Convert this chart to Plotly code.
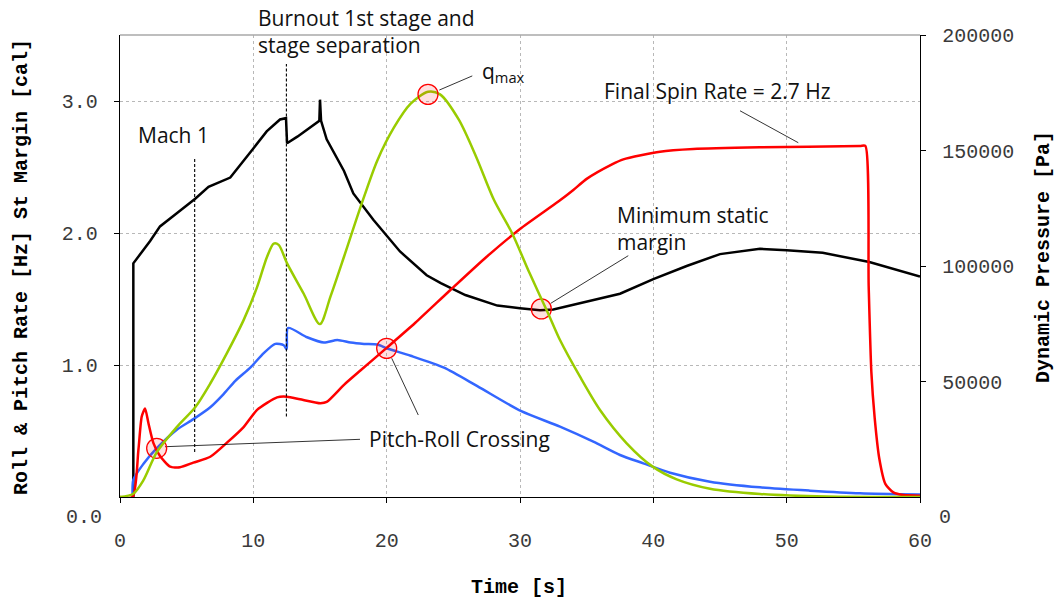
import plotly.graph_objects as go

# ---------------- data ----------------
# Static margin [cal] (left axis)
t_margin = [1.0, 1.0, 2.26, 3.0, 4.26, 5.64, 6.64, 8.27, 10.0, 11.0, 12.0, 12.45, 12.53, 13.3,
            14.95, 15.0, 15.08, 15.5, 16.8, 17.5, 19.0, 21.0, 23.0, 24.06, 25.9, 28.3, 30.0,
            31.5, 32.5, 35.0, 37.5, 40.0, 42.5, 45.0, 48.0, 50.0, 52.7, 56.2, 60.0]
static_margin = [0.0, 1.77, 1.94, 2.05, 2.15, 2.26, 2.35, 2.42, 2.64, 2.77, 2.86, 2.87, 2.68, 2.73,
                 2.85, 3.01, 2.85, 2.71, 2.47, 2.30, 2.10, 1.86, 1.68, 1.62, 1.53, 1.45, 1.43,
                 1.415, 1.42, 1.48, 1.54, 1.65, 1.75, 1.84, 1.88, 1.87, 1.85, 1.78, 1.67]

# Pitch rate [Hz] (left axis)
t_pitch = [0.95, 1.0, 1.75, 2.76, 4.26, 5.51, 6.77, 7.77, 8.65, 9.77, 10.78, 11.65, 12.28, 12.5,
           12.6, 14.03, 15.29, 16.3, 17.3, 18.3, 19.3, 20.05, 21.8, 24.3, 26.8, 30.1, 33.0, 35.5,
           37.5, 39.25, 41.25, 44.25, 48.0, 51.75, 55.5, 60.0]
pitch_rate = [0.0, 0.13, 0.25, 0.37, 0.51, 0.59, 0.68, 0.78, 0.88, 0.98, 1.09, 1.16, 1.15, 1.12,
              1.28, 1.21, 1.17, 1.19, 1.17, 1.16, 1.155, 1.125, 1.07, 0.98, 0.84, 0.65, 0.533, 0.419,
              0.318, 0.255, 0.184, 0.116, 0.073, 0.048, 0.028, 0.018]

# Roll rate [Hz] (left axis)
t_roll = [0.0, 0.95, 1.38, 1.63, 1.88, 2.13, 2.5, 3.0, 3.76, 4.5, 5.5, 6.77, 8.0, 9.27, 10.28,
          11.78, 12.53, 13.5, 15.04, 15.5, 16.8, 18.05, 20.0, 22.15, 24.8, 27.5, 30.0, 32.9, 34.0,
          35.0, 36.9, 37.75, 40.5, 43.0, 48.0, 55.5, 55.9, 56.15, 56.35, 56.6, 56.95, 57.4, 58.0,
          58.75, 60.0]
roll_rate = [0.0, 0.0, 0.356, 0.61, 0.67, 0.56, 0.41, 0.31, 0.23, 0.225, 0.26, 0.305, 0.41, 0.53,
             0.66, 0.755, 0.76, 0.74, 0.71, 0.72, 0.85, 0.96, 1.13, 1.32, 1.57, 1.82, 2.03, 2.24,
             2.326, 2.41, 2.52, 2.558, 2.616, 2.636, 2.649, 2.659, 2.66, 1.6, 0.95, 0.6, 0.29, 0.1,
             0.035, 0.015, 0.01]

# Dynamic pressure [Pa] (right axis)
t_q = [0.0, 1.0, 1.75, 2.76, 4.26, 5.64, 6.77, 8.02, 9.27, 10.28, 11.03, 11.53, 11.9, 12.53,
       13.78, 14.99, 15.79, 16.8, 18.05, 19.3, 20.55, 21.8, 23.1, 24.0, 25.4, 26.7, 28.05, 29.4,
       30.7, 32.07, 33.0, 34.5, 36.0, 38.0, 39.95, 41.75, 44.25, 48.0, 53.0, 60.0]
dyn_pressure = [0, 1430, 7200, 19430, 30290, 38860, 49140, 62290, 76570, 90860, 104000, 109710,
                109140, 101140, 88000, 74860, 86860, 104000, 125710, 145710, 160000, 170290,
                175430, 174290, 163430, 147430, 128570, 114290, 97140, 80000, 67940, 52060,
                37660, 23260, 13140, 7660, 3600, 1310, 170, 0]

# Highlighted points (circles)
cross_t = [2.75, 20.0, 31.6]
cross_v = [0.369, 1.126, 1.425]
qmax_t = [23.1]
qmax_pa = [174300]

# Event markers (dashed vertical lines)
event_t = [5.6, 12.48]
event_lo = [0.34, 0.61]
event_hi = [2.56, 3.28]

# Callout leader lines (time, left-axis value)
leader_t = [[23.95, 26.42], [46.5, 50.87], [32.3, 38.12], [3.375, 18.0], [20.38, 22.37]]
leader_v = [[3.083, 3.19], [2.926, 2.684], [1.467, 1.828], [0.381, 0.437], [1.051, 0.621]]

x_ticks = [0, 10, 20, 30, 40, 50, 60]
y_ticks = [1, 2, 3]
y_ticktext = ["1.0", "2.0", "3.0"]
y2_ticks = [50000, 100000, 150000, 200000]
y2_ticktext = ["50000", "100000", "150000", "200000"]

# ---------------- figure ----------------
W, H = 1056, 598
L, R, T, B = 120, 136, 35, 101
PW, PH = W - L - R, H - T - B


def px(xp, yp):
    return (xp - L) / PW, (H - B - yp) / PH


fig = go.Figure()

LW = 2.5
fig.add_trace(go.Scatter(x=t_margin, y=static_margin, mode="lines",
                         line=dict(color="#000000", width=LW), name="Static margin"))
fig.add_trace(go.Scatter(x=t_pitch, y=pitch_rate, mode="lines",
                         line=dict(color="#3366ff", width=LW, shape="spline", smoothing=0.7),
                         name="Pitch rate"))
fig.add_trace(go.Scatter(x=t_q, y=dyn_pressure, mode="lines", yaxis="y2",
                         line=dict(color="#99cc00", width=LW, shape="spline", smoothing=0.8),
                         name="Dynamic pressure"))
fig.add_trace(go.Scatter(x=t_roll, y=roll_rate, mode="lines",
                         line=dict(color="#ff0000", width=LW, shape="spline", smoothing=0.6),
                         name="Roll rate"))

for et, lo, hi in zip(event_t, event_lo, event_hi):
    fig.add_trace(go.Scatter(x=[et, et], y=[lo, hi], mode="lines",
                             line=dict(color="#000000", width=1.1, dash="3px,2px")))

for lt, lv in zip(leader_t, leader_v):
    fig.add_trace(go.Scatter(x=lt, y=lv, mode="lines",
                             line=dict(color="#000000", width=0.8)))

circle = dict(size=20, color="rgba(255,0,0,0.12)", line=dict(color="#ff0000", width=1.3))
fig.add_trace(go.Scatter(x=cross_t, y=cross_v, mode="markers", marker=circle))
fig.add_trace(go.Scatter(x=qmax_t, y=qmax_pa, mode="markers", marker=circle, yaxis="y2"))

tick_font = dict(family="Liberation Mono, Courier New, monospace", size=20, color="#3a3a3a")
title_font = dict(family="Liberation Mono, Courier New, monospace", size=20, color="#000000",
                  weight="bold")
text_font = dict(family="Open Sans, Noto Sans, sans-serif", size=21, color="#111111")

fig.update_layout(
    width=W, height=H, margin=dict(l=L, r=R, t=T, b=B, pad=0),
    paper_bgcolor="white", plot_bgcolor="white", showlegend=False,
    xaxis=dict(range=[0, 60], tickvals=x_ticks, showgrid=True, gridcolor="#b8b8b8",
               griddash="dot", gridwidth=1, zeroline=False, showline=True, linecolor="#000000",
               linewidth=1.3, ticks="outside", ticklen=5, tickcolor="#000000",
               tickfont=tick_font, ticklabelstandoff=20),
    yaxis=dict(range=[0, 3.5], tickvals=y_ticks, ticktext=y_ticktext, showgrid=True,
               gridcolor="#b8b8b8", griddash="dot", gridwidth=1, zeroline=False, showline=True,
               linecolor="#000000", linewidth=1.3, ticks="outside", ticklen=5,
               tickcolor="#000000", tickfont=tick_font, ticklabelstandoff=12),
    yaxis2=dict(range=[0, 200000], overlaying="y", side="right", tickvals=y2_ticks,
                ticktext=y2_ticktext, showgrid=False, zeroline=False, showline=True,
                linecolor="#000000", linewidth=1.3, ticks="outside", ticklen=5,
                tickcolor="#000000", tickfont=tick_font, ticklabelstandoff=12),
)

# top border of plot area
fig.add_shape(type="line", xref="paper", yref="paper", x0=0, x1=1, y0=1, y1=1,
              line=dict(color="#a8a8a8", width=1.3))

ann = []


def text(s, xp, yp, font=text_font, xanchor="left", angle=0):
    x, y = px(xp, yp)
    ann.append(dict(text=s, x=x, y=y, xref="paper", yref="paper", showarrow=False,
                    xanchor=xanchor, yanchor="middle", align="left", font=font,
                    textangle=angle))


text("Burnout 1st stage and<br>stage separation", 255.5, 31)
text("Mach 1", 136.3, 135.2)
text("q<sub>max</sub>", 479.5, 72)
text("Final Spin Rate = 2.7 Hz", 601.5, 91.2)
text("Minimum static<br>margin", 614.7, 228.5)
text("Pitch-Roll Crossing", 367.3, 438.6)

# zero labels (offset below the axis corner, as in the reference)
text("0.0", 104, 517, font=tick_font, xanchor="right")
text("0", 937, 517, font=tick_font, xanchor="left")

# axis titles
text("Time [s]", 519, 587, font=title_font, xanchor="center")
text("Roll &amp; Pitch Rate [Hz] St Margin [cal]", 21, 267, font=title_font,
     xanchor="center", angle=-90)
text("Dynamic Pressure [Pa]", 1043, 257, font=title_font, xanchor="center", angle=-90)

fig.update_layout(annotations=ann)

fig.write_html("out.html")
